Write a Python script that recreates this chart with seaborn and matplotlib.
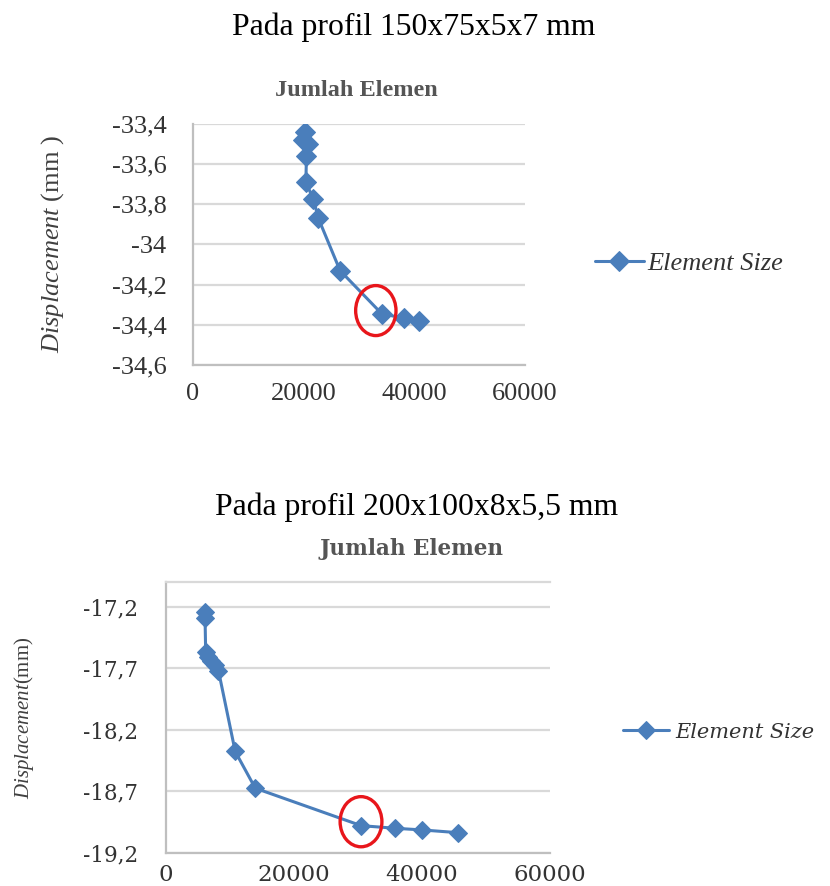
import matplotlib
matplotlib.use("Agg")
import matplotlib.pyplot as plt
import seaborn as sns
import numpy as np
import pandas as pd
from matplotlib.patches import Ellipse
from matplotlib.ticker import FuncFormatter

# ---- data ----
top_x = [20200, 19900, 20700, 20500, 20400, 21760, 22660, 26580, 34120, 38150, 40920]
top_y = [-33.44, -33.48, -33.50, -33.56, -33.69, -33.775, -33.87, -34.13, -34.345, -34.367, -34.383]
top_hl = 8

bot_x = [6100, 6100, 6200, 6500, 7000, 7600, 8200, 10815, 13950, 30500, 35740, 40070, 45660]
bot_y = [-17.24, -17.29, -17.57, -17.61, -17.64, -17.67, -17.72, -18.376, -18.674, -18.978, -18.999, -19.013, -19.035]
bot_hl = 9

top_yticks = [-33.4, -33.6, -33.8, -34.0, -34.2, -34.4, -34.6]
bot_yticks = [-17.2, -17.7, -18.2, -18.7, -19.2]
xticks = [0, 20000, 40000, 60000]

series_label = "Element Size"
title_top = "Pada profil 150x75x5x7 mm"
title_bot = "Pada profil 200x100x8x5,5 mm"
x_title = "Jumlah Elemen"

sns.set_theme(style="white")
plt.rcParams["font.family"] = ["Liberation Serif", "DejaVu Serif"]
plt.rcParams["mathtext.fontset"] = "custom"
plt.rcParams["mathtext.rm"] = "Liberation Serif"
plt.rcParams["mathtext.it"] = "Liberation Serif:italic"

BLUE = "#4A7EBB"
GRID = "#D9D9D9"
TXT = "#333333"

fig = plt.figure(figsize=(8.30, 8.86), dpi=100)

def comma(v, pos):
    s = f"{v:g}"
    return s.replace(".", ",")

# ---------- top chart ----------
ax1 = fig.add_axes([193/830, 1-365/886, 332/830, 241/886])
df1 = pd.DataFrame({"x": top_x, "y": top_y})
sns.lineplot(data=df1, x="x", y="y", ax=ax1, sort=False, estimator=None,
             marker="D", markersize=10.5, color=BLUE, linewidth=2.2,
             markeredgecolor=BLUE, label=series_label, legend=False)
ax1.set_xlim(0, 60000)
ax1.set_ylim(-34.6, -33.4)
ax1.set_yticks(top_yticks)
ax1.set_xticks(xticks)
ax1.yaxis.set_major_formatter(FuncFormatter(comma))
ax1.grid(axis="y", color=GRID, linewidth=1.6)
ax1.grid(axis="x", visible=False)
for s in ["top", "right"]:
    ax1.spines[s].set_visible(False)
for s in ["left", "bottom"]:
    ax1.spines[s].set_color("#BFBFBF")
    ax1.spines[s].set_linewidth(1.6)
ax1.tick_params(axis="y", length=0, pad=19, labelsize=19, labelcolor=TXT)
ax1.tick_params(axis="x", length=0, pad=13, labelsize=19, labelcolor=TXT)
ax1.set_xlabel("")
ax1.set_ylabel(r"$\mathit{Displacement}$ (mm )", fontsize=19, color="#404040", labelpad=33)
ax1.add_patch(Ellipse((top_x[top_hl] - 1080, top_y[top_hl] + 0.016), 7290, 0.249,
                      fill=False, edgecolor="#E8161B", linewidth=2.4, zorder=5))
fig.text(414/830, 1-27/886, title_top, ha="center", va="center", fontsize=22.8, color="black")
fig.text(356/830, 1-90/886, x_title, ha="center", va="center", fontsize=17.5,
         fontweight="bold", color="#555555")
h, l = ax1.get_legend_handles_labels()
fig.legend(h, [series_label], loc="center left", bbox_to_anchor=(595/830, 1-263/886),
           frameon=False, borderpad=0, borderaxespad=0, handlelength=1.85,
           handletextpad=0.15, prop={"family": "Liberation Serif", "style": "italic", "size": 19},
           labelcolor="#333333")

# ---------- bottom chart ----------
ax2 = fig.add_axes([166/830, 1-853/886, 384/830, 271/886])
df2 = pd.DataFrame({"x": bot_x, "y": bot_y})
sns.lineplot(data=df2, x="x", y="y", ax=ax2, sort=False, estimator=None,
             marker="D", markersize=9, color=BLUE, linewidth=2.2,
             markeredgecolor=BLUE, label=series_label, legend=False)
ax2.set_xlim(0, 60000)
ax2.set_ylim(-19.2, -17.0)
ax2.set_yticks(bot_yticks)
ax2.set_xticks(xticks)
ax2.yaxis.set_major_formatter(FuncFormatter(comma))
ax2.grid(axis="y", color=GRID, linewidth=1.6)
ax2.grid(axis="x", visible=False)
ax2.spines["right"].set_visible(False)
ax2.spines["top"].set_color(GRID)
ax2.spines["top"].set_linewidth(1.6)
for s in ["left", "bottom"]:
    ax2.spines[s].set_color("#BFBFBF")
    ax2.spines[s].set_linewidth(1.6)
for lab in ax2.get_xticklabels() + ax2.get_yticklabels():
    lab.set_fontfamily("DejaVu Serif")
ax2.tick_params(axis="y", length=0, pad=20, labelsize=15.5, labelcolor=TXT)
ax2.tick_params(axis="x", length=0, pad=8, labelsize=16.5, labelcolor=TXT)
ax2.set_xlabel("")
ax2.set_ylabel(r"$\mathit{Displacement}$(mm)", fontsize=15, color="#404040", labelpad=34)
ax2.add_patch(Ellipse((bot_x[bot_hl] - 30, bot_y[bot_hl] + 0.032), 6530, 0.407,
                      fill=False, edgecolor="#E8161B", linewidth=2.4, zorder=5))
fig.text(417/830, 1-507/886, title_bot, ha="center", va="center", fontsize=22.8, color="black")
fig.text(411/830, 1-549/886, x_title, ha="center", va="center", fontsize=15.5,
         fontweight="bold", color="#555555", family="DejaVu Serif")
h, l = ax2.get_legend_handles_labels()
fig.legend(h, [series_label], loc="center left", bbox_to_anchor=(623/830, 1-732/886),
           frameon=False, borderpad=0, borderaxespad=0, handlelength=2.2,
           handletextpad=0.3, prop={"family": "DejaVu Serif", "style": "italic", "size": 15},
           labelcolor="#333333")

fig.savefig("out.png", dpi=100)
